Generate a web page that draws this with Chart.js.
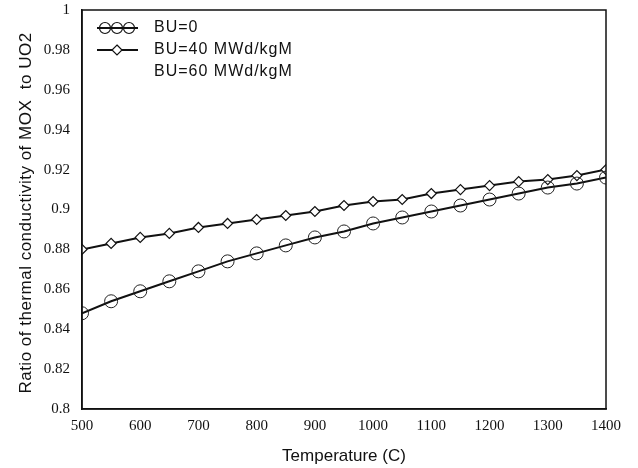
<!DOCTYPE html>
<html>
<head>
<meta charset="utf-8">
<script src="https://cdn.jsdelivr.net/npm/chart.js@4.4.1/dist/chart.umd.min.js"></script>
<style>
  html, body { margin: 0; padding: 0; background: #fff; }
  #wrap { width: 638px; height: 468px; }
</style>
</head>
<body>
<div id="wrap"><canvas id="chart1"></canvas></div>
<script>
const temps = [500, 550, 600, 650, 700, 750, 800, 850, 900, 950, 1000, 1050, 1100, 1150, 1200, 1250, 1300, 1350, 1400];
const bu0 = [0.848, 0.854, 0.859, 0.864, 0.869, 0.874, 0.878, 0.882, 0.886, 0.889, 0.893, 0.896, 0.899, 0.902, 0.905, 0.908, 0.911, 0.913, 0.916];
const bu40 = [0.880, 0.883, 0.886, 0.888, 0.891, 0.893, 0.895, 0.897, 0.899, 0.902, 0.904, 0.905, 0.908, 0.910, 0.912, 0.914, 0.915, 0.917, 0.920];
const bu60 = []; // no visible curve in the picture
const yTicks = [0.8, 0.82, 0.84, 0.86, 0.88, 0.9, 0.92, 0.94, 0.96, 0.98, 1];
const xTicks = [500, 600, 700, 800, 900, 1000, 1100, 1200, 1300, 1400];
const xTitle = "Temperature (C)";
const yTitle = "Ratio of thermal conductivity of MOX  to UO2";

const toPts = (ys) => ys.map((y, i) => ({ x: temps[i], y: y }));
const sans = "'Liberation Sans', Arial, sans-serif";
const serif = "'Liberation Serif', 'Times New Roman', serif";

// frame, axis titles and the legend, drawn by hand
const boxAndLegend = {
  id: "boxAndLegend",
  afterDraw(chart) {
    const ctx = chart.ctx;
    const a = chart.chartArea;
    ctx.save();
    ctx.strokeStyle = "#111";
    ctx.lineWidth = 1.5;
    ctx.strokeRect(a.left, a.top, a.right - a.left, a.bottom - a.top);

    ctx.fillStyle = "#111";
    ctx.textAlign = "center";
    ctx.textBaseline = "middle";
    ctx.font = "17px " + sans;
    ctx.fillText(xTitle, (a.left + a.right) / 2, 456);
    ctx.save();
    ctx.translate(26, 213);
    ctx.rotate(-Math.PI / 2);
    ctx.letterSpacing = "0.5px";
    ctx.fillText(yTitle, 0, 0);
    ctx.restore();

    const rows = [
      { label: "BU=0", y: 28, kind: "circle" },
      { label: "BU=40 MWd/kgM", y: 50, kind: "diamond" },
      { label: "BU=60 MWd/kgM", y: 72, kind: "none" },
    ];
    ctx.textAlign = "left";
    rows.forEach((r) => {
      if (r.kind !== "none") {
        ctx.lineWidth = 2;
        ctx.strokeStyle = "#111";
        ctx.beginPath();
        ctx.moveTo(97, r.y);
        ctx.lineTo(138, r.y);
        ctx.stroke();
        ctx.lineWidth = 1.2;
        if (r.kind === "circle") {
          [105, 117, 129].forEach((cx) => {
            ctx.beginPath();
            ctx.arc(cx, r.y, 5.5, 0, Math.PI * 2);
            ctx.stroke();
          });
        } else {
          ctx.beginPath();
          ctx.moveTo(117, r.y - 5);
          ctx.lineTo(122, r.y);
          ctx.lineTo(117, r.y + 5);
          ctx.lineTo(112, r.y);
          ctx.closePath();
          ctx.fillStyle = "#fff";
          ctx.fill();
          ctx.stroke();
        }
      }
      ctx.fillStyle = "#111";
      ctx.font = "16px " + sans;
      ctx.letterSpacing = "1px";
      ctx.fillText(r.label, 154, r.y);
      ctx.letterSpacing = "0px";
    });
    ctx.restore();
  },
};

new Chart(document.getElementById("chart1").getContext("2d"), {
  type: "line",
  data: {
    datasets: [
      {
        label: "BU=0",
        data: toPts(bu0),
        borderColor: "#111",
        borderWidth: 2,
        tension: 0,
        pointStyle: "circle",
        pointRadius: 6.5,
        pointBorderWidth: 1,
        pointBorderColor: "#222",
        pointBackgroundColor: "rgba(0,0,0,0)",
      },
      {
        label: "BU=40 MWd/kgM",
        data: toPts(bu40),
        borderColor: "#111",
        borderWidth: 2,
        tension: 0,
        pointStyle: "rectRot",
        pointRadius: 5,
        pointBorderWidth: 1.2,
        pointBorderColor: "#111",
        pointBackgroundColor: "#fff",
      },
      {
        label: "BU=60 MWd/kgM",
        data: toPts(bu60),
        borderColor: "rgba(0,0,0,0)",
        pointRadius: 0,
      },
    ],
  },
  options: {
    responsive: true,
    maintainAspectRatio: false,
    animation: false,
    layout: { padding: { top: 10, right: 32, left: 0, bottom: 0 } },
    plugins: { legend: { display: false }, tooltip: { enabled: false } },
    scales: {
      x: {
        type: "linear",
        min: 500,
        max: 1400,
        afterBuildTicks: (s) => { s.ticks = xTicks.map((v) => ({ value: v })); },
        afterFit: (s) => { s.height = 59; s.paddingLeft = 0; s.paddingRight = 0; },
        grid: { display: false, drawTicks: false },
        border: { display: true, color: "#111", width: 1.5 },
        ticks: {
          color: "#111",
          padding: 8,
          maxRotation: 0,
          callback: (v) => String(v),
          font: { family: serif, size: 15 },
        },
      },
      y: {
        min: 0.8,
        max: 1,
        afterBuildTicks: (s) => { s.ticks = yTicks.map((v) => ({ value: v })); },
        afterFit: (s) => { s.width = 82; s.paddingTop = 0; s.paddingBottom = 0; },
        grid: { display: false, drawTicks: false },
        border: { display: true, color: "#111", width: 1.5 },
        ticks: {
          color: "#111",
          padding: 12,
          callback: (v) => String(+v.toFixed(2)),
          font: { family: serif, size: 15 },
        },
      },
    },
  },
  plugins: [boxAndLegend],
});
</script>
</body>
</html>
